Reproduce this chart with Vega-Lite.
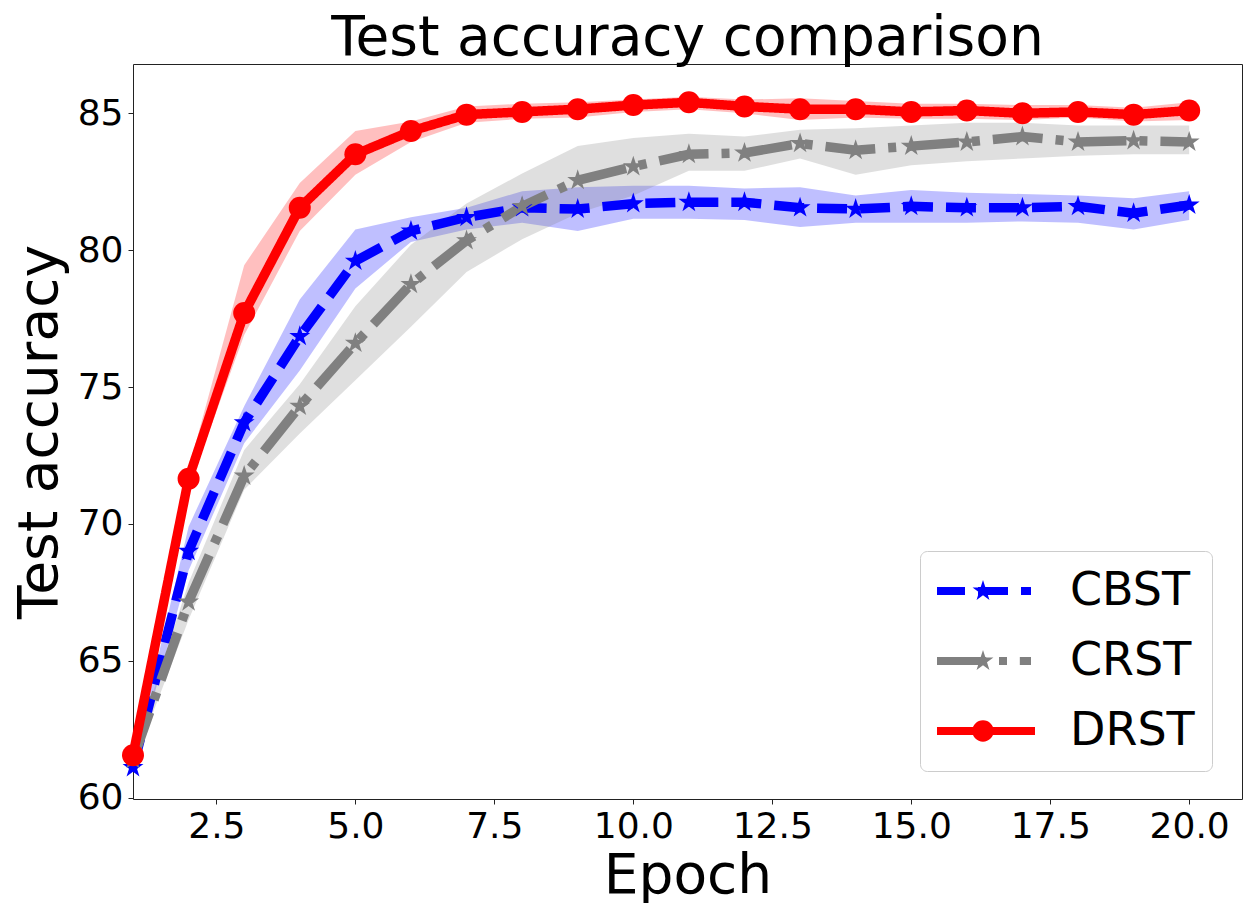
{
  "$schema": "https://vega.github.io/schema/vega-lite/v6.json",
  "width": 1109,
  "height": 735,
  "autosize": {"type": "none"},
  "padding": {"left": 133, "top": 64, "right": 1, "bottom": 104},
  "background": "white",
  "title": {"text": "Test accuracy comparison", "fontSize": 55, "font": "DejaVu Sans", "fontWeight": "normal", "color": "black", "anchor": "middle", "baseline": "alphabetic", "offset": -46},
  "config": {
    "view": {"stroke": "#222222", "strokeWidth": 1},
    "axis": {"labelFont": "DejaVu Sans", "labelFontSize": 36, "labelColor": "black", "titleFont": "DejaVu Sans", "titleFontSize": 55, "titleFontWeight": "normal", "titleColor": "black", "tickColor": "#222222", "tickSize": 5, "tickWidth": 1, "domain": false, "grid": false, "labelPadding": 5, "labelOverlap": false, "labelFlush": false}
  },
  "data": {"values": [
    {"epoch": 1, "series": "CBST", "mean": 61.1, "lo": 60.95, "hi": 61.25},
    {"epoch": 2, "series": "CBST", "mean": 69.0, "lo": 68.3, "hi": 69.9},
    {"epoch": 3, "series": "CBST", "mean": 73.7, "lo": 72.95, "hi": 74.3},
    {"epoch": 4, "series": "CBST", "mean": 76.85, "lo": 75.6, "hi": 78.2},
    {"epoch": 5, "series": "CBST", "mean": 79.6, "lo": 78.6, "hi": 80.75},
    {"epoch": 6, "series": "CBST", "mean": 80.7, "lo": 80.3, "hi": 81.2},
    {"epoch": 7, "series": "CBST", "mean": 81.2, "lo": 80.75, "hi": 81.55},
    {"epoch": 8, "series": "CBST", "mean": 81.55, "lo": 81.0, "hi": 82.15},
    {"epoch": 9, "series": "CBST", "mean": 81.5, "lo": 80.7, "hi": 82.3},
    {"epoch": 10, "series": "CBST", "mean": 81.7, "lo": 81.15, "hi": 82.35},
    {"epoch": 11, "series": "CBST", "mean": 81.75, "lo": 81.15, "hi": 82.35},
    {"epoch": 12, "series": "CBST", "mean": 81.75, "lo": 81.1, "hi": 82.25},
    {"epoch": 13, "series": "CBST", "mean": 81.55, "lo": 80.85, "hi": 82.3},
    {"epoch": 14, "series": "CBST", "mean": 81.5, "lo": 81.0, "hi": 82.0},
    {"epoch": 15, "series": "CBST", "mean": 81.6, "lo": 81.0, "hi": 82.2},
    {"epoch": 16, "series": "CBST", "mean": 81.55, "lo": 81.0, "hi": 82.1},
    {"epoch": 17, "series": "CBST", "mean": 81.55, "lo": 81.05, "hi": 82.05},
    {"epoch": 18, "series": "CBST", "mean": 81.6, "lo": 81.0, "hi": 82.0},
    {"epoch": 19, "series": "CBST", "mean": 81.35, "lo": 80.75, "hi": 81.9},
    {"epoch": 20, "series": "CBST", "mean": 81.65, "lo": 81.1, "hi": 82.15},
    {"epoch": 1, "series": "CRST", "mean": 61.4, "lo": 61.2, "hi": 61.6},
    {"epoch": 2, "series": "CRST", "mean": 67.15, "lo": 66.5, "hi": 67.85},
    {"epoch": 3, "series": "CRST", "mean": 71.75, "lo": 71.25, "hi": 72.7},
    {"epoch": 4, "series": "CRST", "mean": 74.3, "lo": 73.3, "hi": 75.1},
    {"epoch": 5, "series": "CRST", "mean": 76.6, "lo": 75.25, "hi": 77.95},
    {"epoch": 6, "series": "CRST", "mean": 78.75, "lo": 77.2, "hi": 80.2},
    {"epoch": 7, "series": "CRST", "mean": 80.35, "lo": 79.2, "hi": 81.7},
    {"epoch": 8, "series": "CRST", "mean": 81.6, "lo": 80.4, "hi": 82.8},
    {"epoch": 9, "series": "CRST", "mean": 82.55, "lo": 81.35, "hi": 83.8},
    {"epoch": 10, "series": "CRST", "mean": 83.05, "lo": 82.0, "hi": 84.1},
    {"epoch": 11, "series": "CRST", "mean": 83.5, "lo": 82.9, "hi": 84.25},
    {"epoch": 12, "series": "CRST", "mean": 83.55, "lo": 82.9, "hi": 84.15},
    {"epoch": 13, "series": "CRST", "mean": 83.9, "lo": 83.35, "hi": 84.4},
    {"epoch": 14, "series": "CRST", "mean": 83.65, "lo": 82.75, "hi": 84.45},
    {"epoch": 15, "series": "CRST", "mean": 83.8, "lo": 83.1, "hi": 84.55},
    {"epoch": 16, "series": "CRST", "mean": 83.95, "lo": 83.25, "hi": 84.65},
    {"epoch": 17, "series": "CRST", "mean": 84.15, "lo": 83.35, "hi": 84.65},
    {"epoch": 18, "series": "CRST", "mean": 83.95, "lo": 83.45, "hi": 84.55},
    {"epoch": 19, "series": "CRST", "mean": 84.0, "lo": 83.5, "hi": 84.55},
    {"epoch": 20, "series": "CRST", "mean": 83.95, "lo": 83.5, "hi": 84.55},
    {"epoch": 1, "series": "DRST", "mean": 61.55, "lo": 61.35, "hi": 61.75},
    {"epoch": 2, "series": "DRST", "mean": 71.65, "lo": 71.3, "hi": 72.0},
    {"epoch": 3, "series": "DRST", "mean": 77.7, "lo": 76.9, "hi": 79.45},
    {"epoch": 4, "series": "DRST", "mean": 81.55, "lo": 80.7, "hi": 82.45},
    {"epoch": 5, "series": "DRST", "mean": 83.5, "lo": 82.75, "hi": 84.35},
    {"epoch": 6, "series": "DRST", "mean": 84.35, "lo": 83.95, "hi": 84.7},
    {"epoch": 7, "series": "DRST", "mean": 84.95, "lo": 84.65, "hi": 85.25},
    {"epoch": 8, "series": "DRST", "mean": 85.05, "lo": 84.8, "hi": 85.35},
    {"epoch": 9, "series": "DRST", "mean": 85.15, "lo": 84.85, "hi": 85.4},
    {"epoch": 10, "series": "DRST", "mean": 85.3, "lo": 85.05, "hi": 85.5},
    {"epoch": 11, "series": "DRST", "mean": 85.4, "lo": 85.15, "hi": 85.6},
    {"epoch": 12, "series": "DRST", "mean": 85.25, "lo": 85.0, "hi": 85.5},
    {"epoch": 13, "series": "DRST", "mean": 85.15, "lo": 84.75, "hi": 85.55},
    {"epoch": 14, "series": "DRST", "mean": 85.15, "lo": 84.85, "hi": 85.45},
    {"epoch": 15, "series": "DRST", "mean": 85.05, "lo": 84.8, "hi": 85.35},
    {"epoch": 16, "series": "DRST", "mean": 85.1, "lo": 84.8, "hi": 85.35},
    {"epoch": 17, "series": "DRST", "mean": 85.0, "lo": 84.75, "hi": 85.3},
    {"epoch": 18, "series": "DRST", "mean": 85.05, "lo": 84.85, "hi": 85.3},
    {"epoch": 19, "series": "DRST", "mean": 84.95, "lo": 84.7, "hi": 85.2},
    {"epoch": 20, "series": "DRST", "mean": 85.1, "lo": 84.75, "hi": 85.4}
  ]},
  "encoding": {
    "x": {"field": "epoch", "type": "quantitative", "scale": {"domain": [1, 20.95], "nice": false, "zero": false}, "axis": {"values": [2.5, 5, 7.5, 10, 12.5, 15, 17.5, 20], "format": ".1f", "title": "Epoch", "titlePadding": 5}},
    "color": {"field": "series", "type": "nominal", "scale": {"domain": ["CBST", "CRST", "DRST"], "range": ["#0000ff", "#808080", "#ff0000"]},
      "legend": {"title": null, "orient": "none", "legendX": 787, "legendY": 487, "padding": 17, "rowPadding": 24, "clipHeight": 46, "symbolSize": 9216, "symbolStrokeWidth": 0, "symbolOffset": -2, "labelOffset": 39, "labelFont": "DejaVu Sans", "labelFontSize": 46, "labelColor": "black", "fillColor": "rgba(255,255,255,0.8)", "strokeColor": "#cccccc", "cornerRadius": 7,
        "encode": {"symbols": {"update": {
          "shape": {"signal": "datum.value === 'CBST' ? 'M-1,-0.0833L-0.375,-0.0833L-0.375,0.0833L-1,0.0833Z M-0.104,-0.0833L0.521,-0.0833L0.521,0.0833L-0.104,0.0833Z M0.792,-0.0833L1,-0.0833L1,0.0833L0.792,0.0833Z M0,-0.229L0.0514,-0.0708L0.2178,-0.0708L0.0832,0.027L0.1346,0.1853L0,0.0875L-0.1346,0.1853L-0.0832,0.027L-0.2178,-0.0708L-0.0514,-0.0708Z' : (datum.value === 'CRST' ? 'M-1,-0.0833L0.067,-0.0833L0.067,0.0833L-1,0.0833Z M0.333,-0.0833L0.5,-0.0833L0.5,0.0833L0.333,0.0833Z M0.767,-0.0833L1,-0.0833L1,0.0833L0.767,0.0833Z M0,-0.229L0.0514,-0.0708L0.2178,-0.0708L0.0832,0.027L0.1346,0.1853L0,0.0875L-0.1346,0.1853L-0.0832,0.027L-0.2178,-0.0708L-0.0514,-0.0708Z' : 'M-1.083,-0.0833L1.083,-0.0833L1.083,0.0833L-1.083,0.0833Z M0.223,0A0.223,0.223,0,1,1,-0.223,0A0.223,0.223,0,1,1,0.223,0Z')"},
          "stroke": {"value": "transparent"},
          "strokeWidth": {"value": 0},
          "opacity": {"value": 1},
          "fillOpacity": {"value": 1},
          "size": {"value": 9216}
        }}}
      }
    }
  },
  "layer": [
    {
      "mark": {"type": "area", "fillOpacity": 0.25, "strokeWidth": 0},
      "encoding": {
        "y": {"field": "lo", "type": "quantitative", "scale": {"domain": [59.95, 86.8], "nice": false, "zero": false}, "axis": {"values": [60, 65, 70, 75, 80, 85], "title": "Test accuracy", "titlePadding": 9}},
        "y2": {"field": "hi"}
      }
    },
    {
      "mark": {"type": "line", "strokeWidth": 9.5},
      "encoding": {
        "y": {"field": "mean", "type": "quantitative", "scale": {"domain": [59.95, 86.8], "nice": false, "zero": false}, "axis": {"values": [60, 65, 70, 75, 80, 85], "title": "Test accuracy", "titlePadding": 9}},
        "strokeDash": {"field": "series", "type": "nominal", "scale": {"domain": ["CBST", "CRST", "DRST", "other"], "range": [[30, 13], [50, 13, 8, 13], [1, 0], [1, 0]]}, "legend": null}
      }
    },
    {
      "mark": {"type": "point", "filled": true, "size": 484, "opacity": 1, "strokeWidth": 0},
      "encoding": {
        "y": {"field": "mean", "type": "quantitative", "scale": {"domain": [59.95, 86.8], "nice": false, "zero": false}, "axis": {"values": [60, 65, 70, 75, 80, 85], "title": "Test accuracy", "titlePadding": 9}},
        "shape": {"field": "series", "type": "nominal", "scale": {"domain": ["CBST", "CRST", "DRST", "other"], "range": ["M0,-1L0.2245,-0.309L0.9511,-0.309L0.3633,0.118L0.5878,0.809L0,0.382L-0.5878,0.809L-0.3633,0.118L-0.9511,-0.309L-0.2245,-0.309Z", "M0,-1L0.2245,-0.309L0.9511,-0.309L0.3633,0.118L0.5878,0.809L0,0.382L-0.5878,0.809L-0.3633,0.118L-0.9511,-0.309L-0.2245,-0.309Z", "circle", "circle"]}, "legend": null}
      }
    }
  ]
}
